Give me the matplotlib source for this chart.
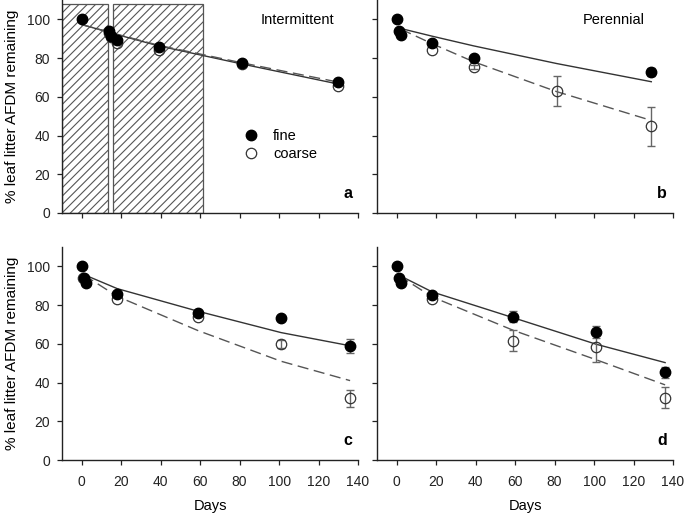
import numpy as np
import matplotlib
matplotlib.use("Agg")
import matplotlib.pyplot as plt
from matplotlib.lines import Line2D

plt.rcParams['font.family'] = ['Liberation Sans', 'DejaVu Sans']
plt.rcParams['hatch.linewidth'] = 0.8

# ---------------- data ----------------
# Panel a (Intermittent)
a_fine_days = [0, 14, 15, 18, 39, 81, 130]
a_fine_vals = [100, 94, 91.3, 89.6, 85.6, 77.5, 67.8]
a_fine_err = [0, 0, 0, 0, 0, 0, 1.0]
a_coarse_days = [14, 15, 18, 39, 81, 130]
a_coarse_vals = [93, 91, 87.9, 84, 77.2, 65.5]
a_coarse_err = [0, 0, 0, 0, 0, 0]
a_fit_days = [0, 14, 15, 18, 39, 81, 130]
a_fit_fine = [97.3, 93.3, 93.0, 92.1, 86.3, 77.0, 66.6]
a_fit_coarse = [97.3, 93.4, 93.1, 92.3, 86.6, 77.6, 67.6]
a_dry_periods = [(-10, 13.4), (15.9, 61.5)]
a_dry_top = 107.8

# Panel b (Perennial)
b_fine_days = [0, 1, 2, 18, 39, 129]
b_fine_vals = [100, 94, 91.7, 87.9, 80.2, 73]
b_fine_err = [0, 0, 0, 0, 0, 2.0]
b_coarse_days = [18, 39, 81, 129]
b_coarse_vals = [84, 75.3, 62.9, 44.8]
b_coarse_err = [0, 1.0, 7.7, 10.0]
b_fit_days = [2, 18, 39, 81, 129]
b_fit_fine = [95.3, 91.3, 86.3, 77.2, 67.8]
b_fit_coarse = [95.0, 87.4, 78.1, 62.7, 47.8]

# Panel c
c_fine_days = [0, 1, 2, 18, 59, 101, 136]
c_fine_vals = [100, 94, 91.4, 85.7, 75.9, 73.3, 59]
c_fine_err = [0, 0, 0, 0, 0, 0, 3.6]
c_coarse_days = [0.5, 18, 59, 101, 136]
c_coarse_vals = [94, 83.3, 73.6, 59.8, 31.9]
c_coarse_err = [0, 0, 0, 2.0, 4.3]
c_fit_days = [1, 18, 59, 101, 136]
c_fit_fine = [95.8, 88.5, 76.8, 65.8, 59.0]
c_fit_coarse = [95.6, 84.5, 66.8, 51.0, 41.0]

# Panel d
d_fine_days = [0, 1, 2, 18, 59, 101, 136]
d_fine_vals = [100, 94, 91.4, 85.3, 74.1, 66, 45.3]
d_fine_err = [0, 0, 0, 0, 2.8, 3.0, 2.8]
d_coarse_days = [18, 59, 101, 136]
d_coarse_vals = [83.1, 61.6, 58.6, 32.2]
d_coarse_err = [0, 5.3, 8.0, 5.6]
d_fit_days = [1, 18, 59, 101, 136]
d_fit_fine = [95.5, 86.8, 73.5, 59.8, 50.3]
d_fit_coarse = [95.3, 84.2, 67.0, 51.8, 38.8]

panel_titles = ["Intermittent", "Perennial", "", ""]
panel_letters = ["a", "b", "c", "d"]
x_ticks = [0, 20, 40, 60, 80, 100, 120, 140]
y_ticks = [0, 20, 40, 60, 80, 100]
ylabel = "% leaf litter AFDM remaining"
xlabel = "Days"

panels = [
    (a_fine_days, a_fine_vals, a_fine_err, a_coarse_days, a_coarse_vals, a_coarse_err, a_fit_days, a_fit_fine, a_fit_coarse),
    (b_fine_days, b_fine_vals, b_fine_err, b_coarse_days, b_coarse_vals, b_coarse_err, b_fit_days, b_fit_fine, b_fit_coarse),
    (c_fine_days, c_fine_vals, c_fine_err, c_coarse_days, c_coarse_vals, c_coarse_err, c_fit_days, c_fit_fine, c_fit_coarse),
    (d_fine_days, d_fine_vals, d_fine_err, d_coarse_days, d_coarse_vals, d_coarse_err, d_fit_days, d_fit_fine, d_fit_coarse),
]

# ---------------- figure ----------------
W, H = 685, 513
fig = plt.figure(figsize=(W / 100, H / 100), dpi=100)

def frac(x0, y0, x1, y1):
    return [x0 / W, 1 - y1 / H, (x1 - x0) / W, (y1 - y0) / H]

rects = [frac(62, 0, 358, 213), frac(377, 0, 673, 213),
         frac(62, 247, 358, 460), frac(377, 247, 673, 460)]

ERRC = '#666666'
LINEC = '#333333'
DASHC = '#555555'
FS = 10

for i, (rect, data) in enumerate(zip(rects, panels)):
    fd, fv, fe, cd, cv, ce, td, tf, tc = data
    ax = fig.add_axes(rect)
    ax.set_xlim(-10, 140)
    ax.set_ylim(0, 110)
    for s in ['top', 'right']:
        ax.spines[s].set_visible(False)
    for s in ['left', 'bottom']:
        ax.spines[s].set_color('#222222')
        ax.spines[s].set_linewidth(1.0)
    ax.set_xticks(x_ticks)
    ax.set_yticks(y_ticks)
    ax.tick_params(direction='out', length=3.5, width=0.9, colors='#222222',
                   labelsize=FS)
    ax.tick_params(axis='x', pad=7)
    ax.tick_params(axis='y', pad=5)
    if i < 2:
        ax.tick_params(labelbottom=False)
    else:
        ax.set_xlabel(xlabel, fontsize=10.5, labelpad=7.5)
    if i % 2 == 1:
        ax.tick_params(labelleft=False)
    else:
        ax.set_ylabel(ylabel, fontsize=11, labelpad=6)

    if i == 0:
        for (x0, x1) in a_dry_periods:
            ax.bar(x0, a_dry_top, width=x1 - x0, align='edge', bottom=0,
                   facecolor='white', edgecolor='#555555', hatch='////',
                   linewidth=0.9, zorder=1)

    # fitted lines
    ax.plot(td, tf, color=LINEC, lw=1.0, zorder=3)
    ax.plot(td, tc, color=DASHC, lw=1.0, dashes=(8, 4), zorder=3)

    # error bars
    cd_a, cv_a, ce_a = np.array(cd), np.array(cv), np.array(ce)
    m = ce_a > 0
    if m.any():
        ax.errorbar(cd_a[m], cv_a[m], yerr=ce_a[m], fmt='none', ecolor=ERRC,
                    elinewidth=1.0, capsize=3, capthick=1.0, zorder=4)
    fd_a, fv_a, fe_a = np.array(fd), np.array(fv), np.array(fe)
    m = fe_a > 0
    if m.any():
        ax.errorbar(fd_a[m], fv_a[m], yerr=fe_a[m], fmt='none', ecolor=ERRC,
                    elinewidth=1.0, capsize=3, capthick=1.0, zorder=4)

    # markers
    ax.plot(cd, cv, 'o', ms=7.5, mfc='none', mec='#333333', mew=0.9, zorder=5)
    ax.plot(fd, fv, 'o', ms=7.5, mfc='black', mec='black', zorder=6)

    if panel_titles[i]:
        ax.text(0.795 if i == 0 else 0.80, 0.905, panel_titles[i], transform=ax.transAxes,
                ha='center', va='center', fontsize=10.5)
    ax.text(0.98, 0.09, panel_letters[i], transform=ax.transAxes,
            ha='right', va='center', fontsize=11.5, fontweight='bold')

    if i == 0:
        handles = [Line2D([], [], ls='none', marker='o', ms=7.5, mfc='black', mec='black'),
                   Line2D([], [], ls='none', marker='o', ms=7.5, mfc='white', mec='#333333', mew=0.9)]
        ax.legend(handles, ['fine', 'coarse'], loc='center left',
                  bbox_to_anchor=(0.565, 0.32), frameon=False, fontsize=10.5,
                  handletextpad=0.9, labelspacing=0.3, handlelength=1.2)

fig.savefig('out.png', dpi=100)
